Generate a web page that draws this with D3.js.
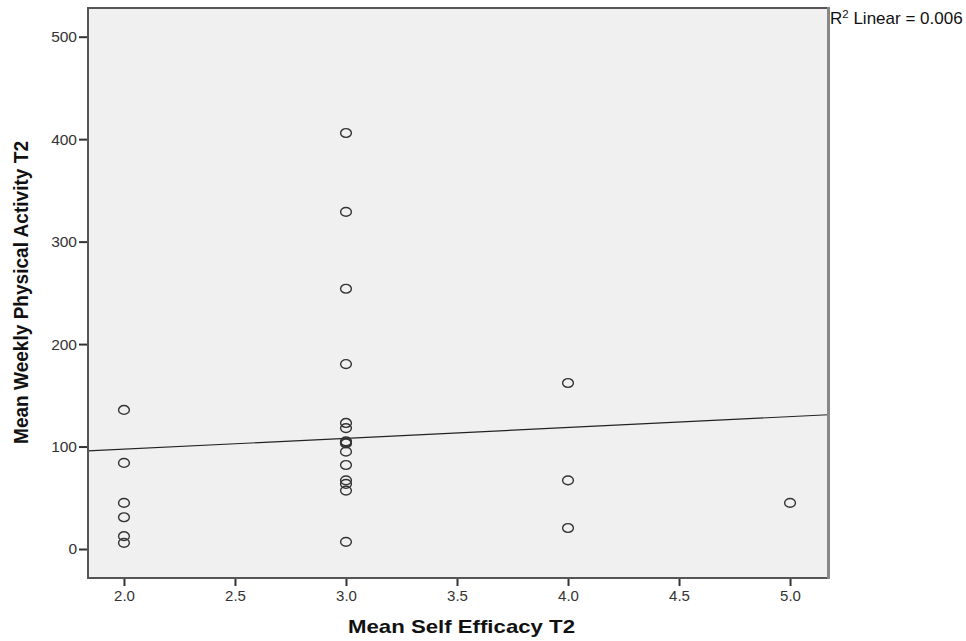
<!DOCTYPE html>
<html><head><meta charset="utf-8">
<script src="https://cdn.jsdelivr.net/npm/d3@7"></script>
<style>body{margin:0;background:#fff;} svg{display:block;}</style>
</head><body>
<svg id="chart" width="966" height="641"></svg>
<script>
// Data
const selfEfficacy = [2,2,2,2,2,2, 3,3,3,3,3,3,3,3,3,3,3,3,3,3,3, 4,4,4, 5];
const physicalActivity = [135.7,84,45,31,12.5,6, 406,329,254,180.5,123,118,105,103,95,82,67,63.5,57,7, 104, 162,67,20.5, 45];
const xTicks = [2.0,2.5,3.0,3.5,4.0,4.5,5.0];
const yTicks = [0,100,200,300,400,500];
const fitIntercept = 76.2, fitSlope = 10.6;
const r2Text = "0.006";

const svg = d3.select("#chart");
const pLeft = 88, pRight = 828, pTop = 8, pBottom = 578;
const x = d3.scaleLinear().domain([1.838, 5.171]).range([pLeft, pRight]);
const y = d3.scaleLinear().domain([-28.3, 528]).range([pBottom, pTop]);

svg.append("rect").attr("x", pLeft).attr("y", pTop).attr("width", pRight-pLeft).attr("height", pBottom-pTop)
  .attr("fill", "#f0f0f0");

// Fit line
const xd = x.domain();
svg.append("line")
  .attr("x1", x(xd[0])).attr("y1", y(fitIntercept + fitSlope*xd[0]))
  .attr("x2", x(xd[1])).attr("y2", y(fitIntercept + fitSlope*xd[1]))
  .attr("stroke", "#222").attr("stroke-width", 1.2);

// Points
svg.append("g").selectAll("ellipse").data(selfEfficacy.map((d,i)=>[d, physicalActivity[i]]))
  .join("ellipse")
  .attr("cx", d=>x(d[0])).attr("cy", d=>y(d[1]))
  .attr("rx", 5.4).attr("ry", 4.4)
  .attr("fill", "none").attr("stroke", "#333").attr("stroke-width", 1.4);

// Frame
svg.append("rect").attr("x", pLeft).attr("y", pTop).attr("width", pRight-pLeft).attr("height", pBottom-pTop)
  .attr("fill", "none").attr("stroke", "#555").attr("stroke-width", 2);
svg.append("line").attr("x1", pRight+0.5).attr("x2", pRight+0.5).attr("y1", pTop-1).attr("y2", pBottom+1)
  .attr("stroke", "#888").attr("stroke-width", 3);

// Y axis
const yAxis = d3.axisLeft(y).tickValues(yTicks).tickSize(8).tickPadding(2).tickFormat(d3.format("d"));
const gy = svg.append("g").attr("transform", `translate(${pLeft-1},0)`).call(yAxis);
gy.select(".domain").remove();
gy.selectAll(".tick line").attr("stroke", "#333").attr("stroke-width", 2);
gy.selectAll("text").attr("font-family", "Arial, 'Liberation Sans', sans-serif").attr("font-size", 15.5).attr("fill", "#333");

// X axis
const xAxis = d3.axisBottom(x).tickValues(xTicks).tickSize(7).tickPadding(4).tickFormat(d3.format(".1f"));
const gx = svg.append("g").attr("transform", `translate(0,${pBottom+1})`).call(xAxis);
gx.select(".domain").remove();
gx.selectAll(".tick line").attr("stroke", "#333").attr("stroke-width", 2);
gx.selectAll("text").attr("font-family", "Arial, 'Liberation Sans', sans-serif").attr("font-size", 15).attr("fill", "#333");

// Titles
svg.append("text").attr("x", 461.5).attr("y", 633).attr("text-anchor", "middle")
  .attr("font-family", "Arial, 'Liberation Sans', sans-serif").attr("font-weight", "bold")
  .attr("font-size", 18.5).attr("fill", "#111")
  .attr("textLength", 227).attr("lengthAdjust", "spacingAndGlyphs")
  .text("Mean Self Efficacy T2");
svg.append("text").attr("transform", "translate(28,292.5) rotate(-90)").attr("text-anchor", "middle")
  .attr("font-family", "'Liberation Sans Narrow', 'Arial Narrow', sans-serif").attr("font-weight", "bold")
  .attr("font-size", 21).attr("fill", "#111")
  .attr("textLength", 303).attr("lengthAdjust", "spacingAndGlyphs")
  .text("Mean Weekly Physical Activity T2");

// R2 label
const r2 = svg.append("text").attr("x", pRight + 2).attr("y", 24)
  .attr("font-family", "Arial, 'Liberation Sans', sans-serif").attr("font-size", 17).attr("fill", "#111");
r2.append("tspan").text("R");
r2.append("tspan").attr("font-size", 11.5).attr("dy", -6).text("2");
r2.append("tspan").attr("dy", 6).text(" Linear = " + r2Text);
</script>
</body></html>
